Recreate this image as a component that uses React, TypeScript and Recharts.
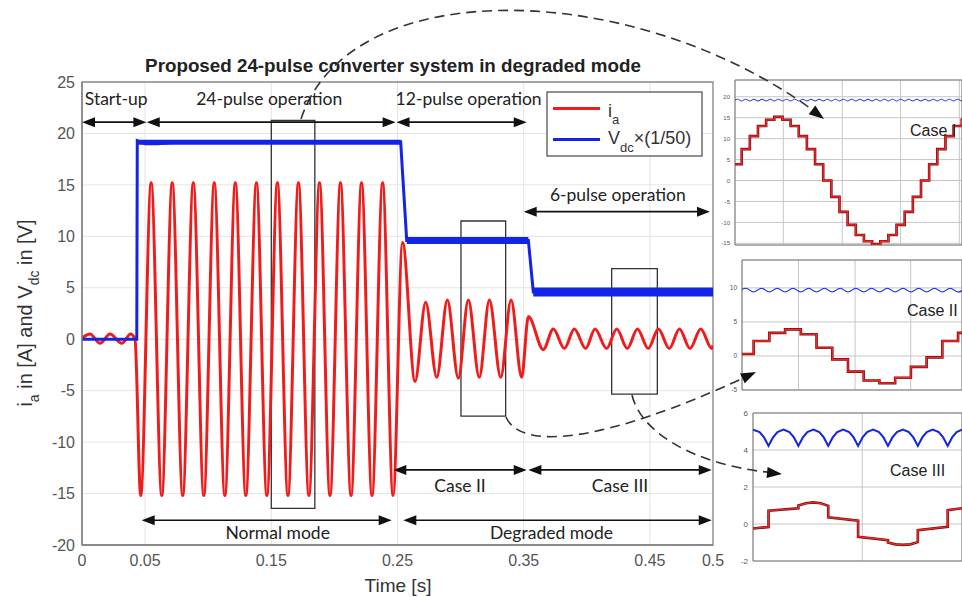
import {
  LineChart,
  Line,
  XAxis,
  YAxis,
  CartesianGrid,
  ReferenceArea,
  ReferenceLine,
} from 'recharts'

const SANS = '"Liberation Sans", Arial, sans-serif'
const NOTE = 'Lato, "Open Sans", sans-serif'
const RED = '#f01c1c'
const BLUE = '#1424e6'

// ---------- main plot, time in s ----------
const iaTime = [
  0, 0.0063, 0.0143, 0.0222, 0.0315, 0.0386, 0.042,
  0.0465, 0.0548, 0.0632, 0.0715, 0.0798, 0.0882, 0.0965, 0.1048, 0.1132, 0.1215,
  0.1298, 0.1382, 0.1465, 0.1548, 0.1632, 0.1715, 0.1798, 0.1882, 0.1965, 0.2048,
  0.2132, 0.2215, 0.2298, 0.2382, 0.2465,
  0.254, 0.2639, 0.2723, 0.2811, 0.2895, 0.2982, 0.3061, 0.3148, 0.3228, 0.3318, 0.34, 0.3484,
  0.3537, 0.3655, 0.3735, 0.3822, 0.3901, 0.3991, 0.4065, 0.4157, 0.4237, 0.4321,
  0.4401, 0.4487, 0.4567, 0.4654, 0.4734, 0.4818, 0.4903, 0.499, 0.5,
]
const iaValue = [
  0.1, 0.5, -0.4, 0.5, -0.4, 0.5, 0,
  -15.2, 15.2, -15.2, 15.2, -15.2, 15.2, -15.2, 15.2, -15.2, 15.2,
  -15.2, 15.2, -15.2, 15.2, -15.2, 15.2, -15.2, 15.2, -15.2, 15.2,
  -15.2, 15.2, -15.2, 15.2, -15.2,
  9.4, -4.1, 3.6, -3.7, 3.8, -3.8, 3.8, -3.7, 3.8, -3.7, 3.8, -3.7,
  2.2, -1.0, 1.0, -0.9, 1.0, -0.9, 1.0, -0.9, 1.0, -0.9,
  1.0, -0.9, 1.0, -0.9, 1.0, -0.9, 1.0, -0.9, -0.6,
]
const vdcTime = [0, 0.0434, 0.0438, 0.05, 0.06, 0.08, 0.2525, 0.2573, 0.3537, 0.3576, 0.5]
const vdcValue = [0, 0, 19.3, 19.0, 19.0, 19.2, 19.2, 9.6, 9.6, 4.6, 4.6]

// ripple band of Vdc/50 in 24-, 12- and 6-pulse operation
const bandStart = [0.0438, 0.2573, 0.3576]
const bandEnd = [0.2525, 0.3537, 0.5]
const bandLevel = [19.15, 9.6, 4.6]
const bandWidth = [5, 7, 9]

const xTicks = [0, 0.05, 0.15, 0.25, 0.35, 0.45, 0.5]
const yTicks = [-20, -15, -10, -5, 0, 5, 10, 15, 20, 25]

// zoom windows
const boxFrom = [0.15, 0.3003, 0.4197]
const boxTo = [0.1845, 0.3357, 0.4559]
const boxLow = [-16.44, -7.48, -5.34]
const boxHigh = [21.26, 11.49, 6.86]

// double arrows
const spanLabels = [
  'Start-up',
  '24-pulse operation',
  '12-pulse operation',
  '6-pulse operation',
  'Normal mode',
  'Degraded mode',
  'Case II',
  'Case III',
]
const spanFrom = [0, 0.0513, 0.2492, 0.35, 0.0473, 0.2546, 0.2467, 0.3537]
const spanTo = [0.051, 0.2485, 0.3524, 0.4976, 0.2454, 0.499, 0.3524, 0.499]
const spanLevel = [21.1, 21.1, 21.1, 12.4, -17.6, -17.6, -12.7, -12.7]
const labelOffset = [
  [2, -24], [-2, -24], [7, -24], [1, -17], [11, 12], [-6, 12], [0, 16], [0, 16],
]

// ---------- insets, x in converter steps ----------
const case1Steps = [
  0, 3.9, 7.5, 10.6, 13, 14.5, 15.2, 14.5, 13, 10.6, 7.5, 3.9, 0, -3.9, -7.5,
  -10.6, -13, -14.5, -15.2, -14.5, -13, -10.6, -7.5, -3.9, 0, 3.9, 7.5, 10.6, 13, 14.5,
]
const case1Ripple = [
  19.0, 19.4, 19.0, 19.4, 19.0, 19.4, 19.0, 19.4, 19.0, 19.4,
  19.0, 19.4, 19.0, 19.4, 19.0, 19.4, 19.0, 19.4, 19.0, 19.4,
  19.0, 19.4, 19.0, 19.4, 19.0, 19.4, 19.0, 19.4, 19.0, 19.4,
  19.0, 19.4, 19.0, 19.4, 19.0, 19.4, 19.0, 19.4, 19.0, 19.4,
  19.0, 19.4, 19.0, 19.4, 19.0, 19.4, 19.0, 19.4, 19.0, 19.4,
  19.0, 19.4, 19.0, 19.4, 19.0, 19.4, 19.0, 19.4,
]
const case2Steps = [0.3, 2.2, 3.4, 3.9, 3.2, 1.2, -0.5, -2.3, -3.6, -4.0, -3.2, -1.6, -0.2, 2.2, 3.4]
const case2Ripple = [
  9.4, 9.95, 9.4, 9.95, 9.4, 9.95, 9.4, 9.95, 9.4, 9.95,
  9.4, 9.95, 9.4, 9.95, 9.4, 9.95, 9.4, 9.95, 9.4, 9.95,
  9.4, 9.95, 9.4, 9.95, 9.4, 9.95, 9.4, 9.95, 9.4, 9.95,
]
const case3IaK = [0.48, 1, 1, 2, 2, 2.25, 2.5, 2.75, 3, 3, 4, 4, 5, 5, 5.25, 5.5, 5.75, 6, 6, 7, 7, 7.48]
const case3Ia = [
  -0.24, -0.16, 0.72, 0.85, 1.0, 1.12, 1.17, 1.12, 0.98, 0.36, 0.18,
  -0.69, -0.87, -1.0, -1.1, -1.13, -1.1, -0.98, -0.33, -0.15, 0.75, 0.85,
]
const case3VdcK = [
  0.48, 0.7, 0.85, 1, 1.15, 1.3, 1.5, 1.7, 1.85, 2, 2.15, 2.3, 2.5, 2.7, 2.85,
  3, 3.15, 3.3, 3.5, 3.7, 3.85, 4, 4.15, 4.3, 4.5, 4.7, 4.85, 5, 5.15, 5.3, 5.5,
  5.7, 5.85, 6, 6.15, 6.3, 6.5, 6.7, 6.85, 7, 7.15, 7.3, 7.48,
]
const case3Vdc = [
  5.1, 4.97, 4.68, 4.22, 4.68, 4.97, 5.1, 4.97, 4.68, 4.22, 4.68, 4.97, 5.1, 4.97, 4.68,
  4.22, 4.68, 4.97, 5.1, 4.97, 4.68, 4.22, 4.68, 4.97, 5.1, 4.97, 4.68, 4.22, 4.68, 4.97, 5.1,
  4.97, 4.68, 4.22, 4.68, 4.97, 5.1, 4.97, 4.68, 4.22, 4.68, 4.97, 5.1,
]

type Pt = { k: number; v: number }
const stepSeries = (levels: number[]): Pt[] => [
  ...levels.map((v, k) => ({ k, v })),
  { k: levels.length, v: levels[levels.length - 1] },
]

const iaData = iaTime.map((t, i) => ({ t, v: iaValue[i] }))
const vdcData = vdcTime.map((t, i) => ({ t, v: vdcValue[i] }))

function SpanArrow(props: any) {
  const { x1, y1, x2, text, dx, dy } = props
  const h = 13
  const w = 5
  return (
    <g>
      <line x1={x1 + h - 1} y1={y1} x2={x2 - h + 1} y2={y1} stroke="#111" strokeWidth={1.6} />
      <polygon points={`${x1},${y1} ${x1 + h},${y1 - w} ${x1 + h},${y1 + w}`} fill="#111" />
      <polygon points={`${x2},${y1} ${x2 - h},${y1 - w} ${x2 - h},${y1 + w}`} fill="#111" />
      <text
        x={(x1 + x2) / 2 + dx}
        y={y1 + dy}
        textAnchor="middle"
        dominantBaseline="central"
        fontFamily={NOTE}
        fontSize={17.5}
        fill="#222"
      >
        {text}
      </text>
    </g>
  )
}

const NoTick = () => <g />

interface InsetProps {
  left: number
  top: number
  width: number
  height: number
  axisWidth: number
  xDomain: [number, number]
  xTicks: number[]
  yDomain: [number, number]
  yTicks: number[]
  tickFont: number
  ia: Pt[]
  iaType: 'stepAfter' | 'linear'
  vdc: Pt[]
  vdcType: 'monotone' | 'linear'
  vdcWidth: number
}

function Inset(p: InsetProps) {
  return (
    <div style={{ position: 'absolute', left: p.left, top: p.top }}>
      <LineChart width={p.width} height={p.height} margin={{ top: 8, right: 0, bottom: 7, left: 0 }}>
        <CartesianGrid stroke="#c6c6c6" />
        <XAxis
          type="number"
          dataKey="k"
          domain={p.xDomain}
          ticks={p.xTicks}
          interval={0}
          allowDataOverflow
          height={0}
          tick={NoTick}
          tickLine={false}
          axisLine={false}
        />
        <YAxis
          type="number"
          domain={p.yDomain}
          ticks={p.yTicks}
          interval={0}
          allowDataOverflow
          width={p.axisWidth}
          tickLine={false}
          axisLine={false}
          tickSize={3}
          tickMargin={2}
          tick={{ fill: '#555', fontSize: p.tickFont, fontFamily: SANS }}
        />
        <ReferenceArea
          x1={p.xDomain[0]}
          x2={p.xDomain[1]}
          y1={p.yDomain[0]}
          y2={p.yDomain[1]}
          fill="none"
          stroke="#7a7a7a"
          strokeWidth={1}
        />
        <Line data={p.vdc} dataKey="v" type={p.vdcType} stroke={BLUE} strokeWidth={p.vdcWidth}
          dot={false} activeDot={false} isAnimationActive={false} />
        <Line data={p.ia} dataKey="v" type={p.iaType} stroke="#6a1010" strokeWidth={2.6}
          dot={false} activeDot={false} isAnimationActive={false} />
        <Line data={p.ia} dataKey="v" type={p.iaType} stroke="#ff2424" strokeWidth={1.3}
          dot={false} activeDot={false} isAnimationActive={false} />
      </LineChart>
    </div>
  )
}

function Head({ x, y, dx, dy }: { x: number; y: number; dx: number; dy: number }) {
  const len = Math.hypot(dx, dy)
  const ux = dx / len
  const uy = dy / len
  const bx = x - ux * 15
  const by = y - uy * 15
  return (
    <polygon
      points={`${x},${y} ${bx - uy * 5.5},${by + ux * 5.5} ${bx + uy * 5.5},${by - ux * 5.5}`}
      fill="#111"
    />
  )
}

export default function App() {
  return (
    <div style={{ position: 'absolute', left: 0, top: 0, width: 962, height: 597, overflow: 'hidden', background: '#fff' }}>
      <div style={{ position: 'absolute', left: 0, top: 0 }}>
        <LineChart width={730} height={597} margin={{ top: 82, right: 17, bottom: 0, left: 0 }}>
          <CartesianGrid stroke="#e4e4e4" />
          <XAxis
            type="number"
            dataKey="t"
            domain={[0, 0.5]}
            ticks={xTicks}
            interval={0}
            allowDataOverflow
            height={52}
            tickLine={false}
            tickSize={5}
            tickMargin={5}
            axisLine={{ stroke: '#808080', strokeWidth: 1.3 }}
            tick={{ fill: '#555', fontSize: 16, fontFamily: SANS }}
          />
          <YAxis
            type="number"
            domain={[-20, 25]}
            ticks={yTicks}
            interval={0}
            width={82}
            tickLine={false}
            tickSize={5}
            tickMargin={2}
            axisLine={{ stroke: '#808080', strokeWidth: 1.3 }}
            tick={{ fill: '#555', fontSize: 16, fontFamily: SANS }}
          />
          <ReferenceArea x1={0} x2={0.5} y1={-20} y2={25} fill="none" stroke="#8a8a8a" strokeWidth={1.3} />
          <Line data={iaData} dataKey="v" type="monotone" stroke={RED} strokeWidth={3}
            dot={false} activeDot={false} isAnimationActive={false} />
          <Line data={vdcData} dataKey="v" type="linear" stroke={BLUE} strokeWidth={3}
            dot={false} activeDot={false} isAnimationActive={false} />
          {bandLevel.map((lvl, i) => (
            <Line
              key={`band${i}`}
              data={[{ t: bandStart[i], v: lvl }, { t: bandEnd[i], v: lvl }]}
              dataKey="v"
              type="linear"
              stroke={BLUE}
              strokeWidth={bandWidth[i]}
              dot={false}
              activeDot={false}
              isAnimationActive={false}
            />
          ))}
          {boxFrom.map((x1, i) => (
            <ReferenceArea key={`box${i}`} x1={x1} x2={boxTo[i]} y1={boxLow[i]} y2={boxHigh[i]}
              fill="none" stroke="#333" strokeWidth={1.3} />
          ))}
          {spanLabels.map((label, i) => (
            <ReferenceLine
              key={label}
              segment={[{ x: spanFrom[i], y: spanLevel[i] }, { x: spanTo[i], y: spanLevel[i] }]}
              shape={(sp: any) => (
                <SpanArrow {...sp} text={label} dx={labelOffset[i][0]} dy={labelOffset[i][1]} />
              )}
            />
          ))}
        </LineChart>
      </div>

      <Inset
        left={695} top={72} width={267} height={180} axisWidth={40}
        xDomain={[1.18, 29.03]} xTicks={[7.1, 14.34, 21.5, 28.7]}
        yDomain={[-15.4, 24]} yTicks={[-15, -10, -5, 0, 5, 10, 15, 20]} tickFont={6}
        ia={stepSeries(case1Steps)} iaType="stepAfter"
        vdc={case1Ripple.map((v, i) => ({ k: 1 + i / 2, v }))} vdcType="monotone" vdcWidth={1}
      />
      <Inset
        left={702} top={252} width={260} height={145} axisWidth={40}
        xDomain={[0.26, 14.25]} xTicks={[3.85, 7.45, 10.99]}
        yDomain={[-5, 14.1]} yTicks={[-5, 0, 5, 10]} tickFont={6.5}
        ia={stepSeries(case2Steps)} iaType="stepAfter"
        vdc={case2Ripple.map((v, i) => ({ k: i / 2, v }))} vdcType="monotone" vdcWidth={1.2}
      />
      <Inset
        left={712} top={405} width={250} height={163} axisWidth={41}
        xDomain={[0.48, 7.48]} xTicks={[4.14]}
        yDomain={[-2, 6]} yTicks={[-2, 0, 2, 4, 6]} tickFont={8}
        ia={case3IaK.map((k, i) => ({ k, v: case3Ia[i] }))} iaType="linear"
        vdc={case3VdcK.map((k, i) => ({ k, v: case3Vdc[i] }))} vdcType="linear" vdcWidth={2}
      />

      <svg width={962} height={597} style={{ position: 'absolute', left: 0, top: 0, pointerEvents: 'none' }}>
        <text x={393} y={72} textAnchor="middle" fontFamily={SANS} fontWeight="bold" fontSize={18.8} fill="#222">
          Proposed 24-pulse converter system in degraded mode
        </text>
        <text x={32} y={313} transform="rotate(-90, 32, 313)" textAnchor="middle" fontFamily={SANS} fontSize={20} fill="#333">
          i<tspan dy={7} fontSize={14}>a</tspan>
          <tspan dy={-7}> in [A] and V</tspan>
          <tspan dy={7} fontSize={14}>dc</tspan>
          <tspan dy={-7}> in [V]</tspan>
        </text>
        <text x={398} y={592} textAnchor="middle" fontFamily={SANS} fontSize={19} fill="#333">
          Time [s]
        </text>

        <rect x={547} y={92} width={155} height={64} fill="#fff" stroke="#555" strokeWidth={1.3} />
        <line x1={553} y1={108.5} x2={600} y2={108.5} stroke={RED} strokeWidth={3} />
        <text x={608} y={117} fontFamily={SANS} fontSize={18} fill="#333">
          i<tspan dy={7} fontSize={13}>a</tspan>
        </text>
        <line x1={553} y1={139.5} x2={600} y2={139.5} stroke={BLUE} strokeWidth={3} />
        <text x={608} y={144} fontFamily={SANS} fontSize={18} fill="#333">
          V<tspan dy={8} fontSize={13}>dc</tspan>
          <tspan dy={-8}>×(1/50)</tspan>
        </text>

        <g fill="none" stroke="#333" strokeWidth={1.6} strokeDasharray="10 6">
          <path d="M 301 119 C 350 -30, 640 -20, 818 114" />
          <path d="M 506 417 C 520 450, 600 445, 750 375" />
          <path d="M 632 395 C 640 430, 690 465, 775 473" />
        </g>
        <Head x={824} y={119} dx={182} dy={137} />
        <Head x={756} y={372} dx={156} dy={-73} />
        <Head x={782} y={474} dx={91} dy={9} />

        <text x={910} y={130} dominantBaseline="central" fontFamily={SANS} fontSize={16} fill="#222">Case I</text>
        <text x={907} y={310} dominantBaseline="central" fontFamily={SANS} fontSize={16} fill="#222">Case II</text>
        <text x={890} y={470} dominantBaseline="central" fontFamily={SANS} fontSize={16} fill="#222">Case III</text>
      </svg>
    </div>
  )
}
